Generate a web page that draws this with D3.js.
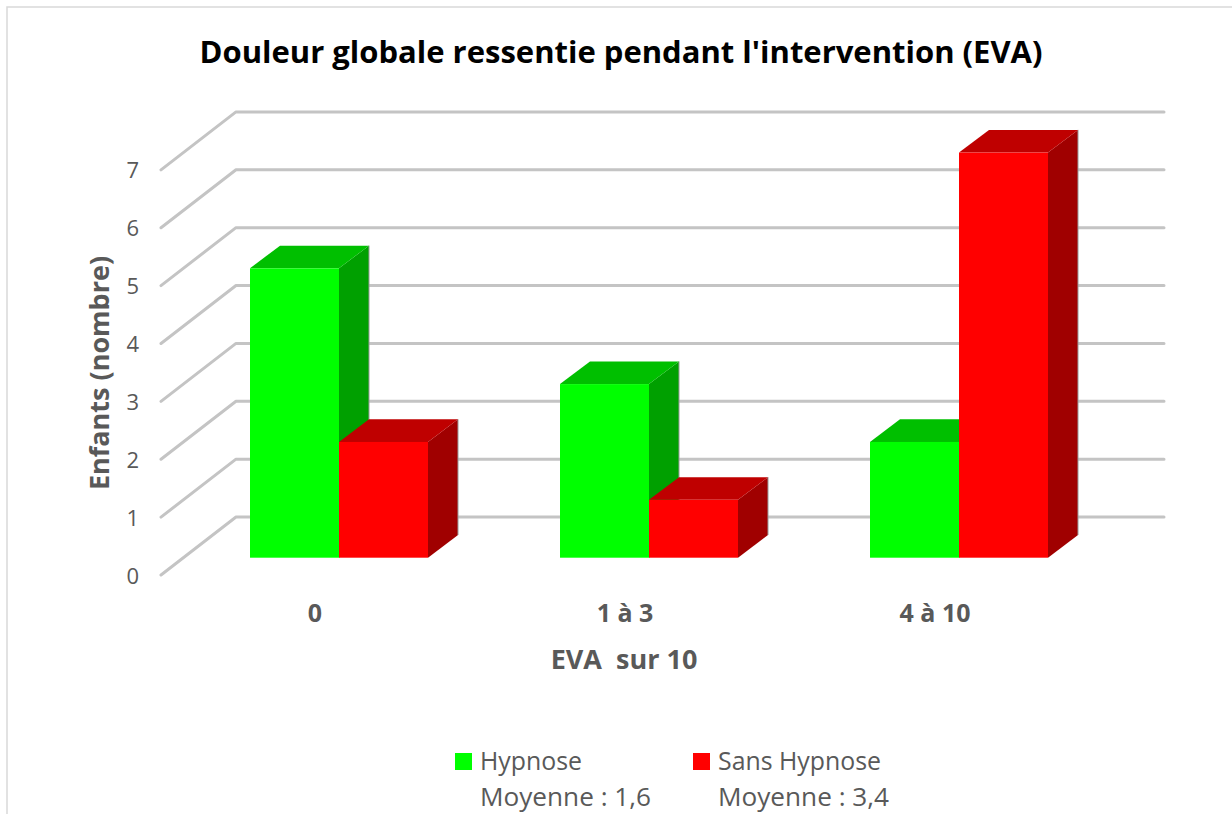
<!DOCTYPE html>
<html>
<head>
<meta charset="utf-8">
<script src="https://cdn.jsdelivr.net/npm/d3@7"></script>
<style>
  html, body { margin: 0; padding: 0; background: #fff; overflow: hidden; }
  text { fill: #595959; font-family: "Open Sans", sans-serif; }
</style>
</head>
<body>
<div id="chart"></div>
<script>
// values
var categories = ["0", "1 à 3", "4 à 10"];
var seriesNames = ["Hypnose", "Sans Hypnose"];
var seriesMeans = ["Moyenne : 1,6", "Moyenne : 3,4"];
var hypnose = [5, 3, 2];
var sansHypnose = [2, 1, 7];
var yTicks = [0, 1, 2, 3, 4, 5, 6, 7];

var svgWidth = 1232;
var svgHeight = 814;

var svg = d3.select("#chart")
  .append("svg")
  .attr("width", svgWidth)
  .attr("height", svgHeight);

// chart frame, only the left and top edges are in the picture
svg.append("path")
  .attr("d", "M7,814V7H1232")
  .attr("fill", "none")
  .attr("stroke", "#d9d9d9")
  .attr("stroke-width", 1.5);

// floor depth of the 3d box
var depthX = 76;
var depthY = 58;
// bars sit part way into the box and are less deep than it
var barShiftY = 17.3;
var barDepthX = 30;
var barDepthY = 22.7;

var yScale = d3.scaleLinear().domain([0, 8]).range([575, 112]);
var xAxisScale = d3.scaleBand().domain(categories).range([160, 1090]);
var xScale = d3.scaleBand().domain(categories).range([184, 1114])
  .paddingInner(0.4258).paddingOuter(0.2129);
var xSub = d3.scaleBand().domain(seriesNames).range([0, xScale.bandwidth()]);

// gridlines
svg.append("g").selectAll("path")
  .data(yTicks)
  .enter()
  .append("path")
  .attr("d", d => {
    var y = yScale(d);
    return `M161,${y}L${160 + depthX},${y - depthY}H1164`;
  })
  .attr("fill", "none")
  .attr("stroke", "#c4c4c4")
  .attr("stroke-width", 3)
  .attr("stroke-linecap", "round")
  .attr("stroke-linejoin", "round");

var colors = [
  { front: "#00ff00", top: "#00bf00", side: "#00a000" },
  { front: "#ff0000", top: "#bf0000", side: "#a00000" }
];

var bars = [];
categories.forEach((c, i) => {
  bars.push({ cat: c, name: seriesNames[0], value: hypnose[i], color: colors[0] });
  bars.push({ cat: c, name: seriesNames[1], value: sansHypnose[i], color: colors[1] });
});

svg.selectAll(".bar")
  .data(bars)
  .enter()
  .append("g")
  .attr("class", "bar")
  .each(function(d) {
    var g = d3.select(this);
    var x0 = xScale(d.cat) + xSub(d.name);
    var x1 = x0 + xSub.bandwidth();
    var y0 = yScale(0) - barShiftY;
    var y1 = yScale(d.value) - barShiftY;

    // side
    g.append("path")
      .attr("d", `M${x1},${y0}L${x1 + barDepthX},${y0 - barDepthY}V${y1 - barDepthY}L${x1},${y1}Z`)
      .attr("fill", d.color.side);
    // thin grey edge on the outside of the side face
    g.append("path")
      .attr("d", `M${x1 + barDepthX},${y0 - barDepthY}V${y1 - barDepthY}`)
      .attr("stroke", "#9a9a9a")
      .attr("stroke-width", 1);
    // top
    g.append("path")
      .attr("d", `M${x0},${y1}L${x0 + barDepthX},${y1 - barDepthY}H${x1 + barDepthX}L${x1},${y1}Z`)
      .attr("fill", d.color.top);
    // front
    g.append("rect")
      .attr("x", x0)
      .attr("y", y1)
      .attr("width", x1 - x0)
      .attr("height", y0 - y1)
      .attr("fill", d.color.front);
  });

// axes
var leftAxis = d3.axisLeft(yScale).tickValues(yTicks).tickSize(0).tickPadding(0);
var yAxisGroup = svg.append("g")
  .attr("transform", "translate(139, 1)")
  .call(leftAxis);
yAxisGroup.select(".domain").remove();
yAxisGroup.selectAll("text")
  .attr("font-family", null)
  .style("font-size", "22px");

var bottomAxis = d3.axisBottom(xAxisScale).tickSize(0).tickPadding(0);
var xAxisGroup = svg.append("g")
  .attr("transform", "translate(0, 604)")
  .call(bottomAxis);
xAxisGroup.select(".domain").remove();
xAxisGroup.selectAll("text")
  .attr("font-family", null)
  .style("font-size", "25px")
  .style("font-weight", "bold");

// titles
svg.append("text")
  .attr("x", 621)
  .attr("y", 63)
  .style("text-anchor", "middle")
  .style("font-size", "31px")
  .style("font-weight", "bold")
  .style("fill", "#000")
  .text("Douleur globale ressentie pendant l'intervention (EVA)");

svg.append("text")
  .attr("transform", "translate(109, 373) rotate(-90)")
  .style("text-anchor", "middle")
  .style("font-size", "27px")
  .style("font-weight", "bold")
  .text("Enfants (nombre)");

svg.append("text")
  .attr("x", 624)
  .attr("y", 669)
  .style("text-anchor", "middle")
  .style("font-size", "27px")
  .style("font-weight", "bold")
  .style("white-space", "pre")
  .text("EVA  sur 10");

// legend
var legendX = [480, 718];
var legend = svg.selectAll(".legend")
  .data(seriesNames)
  .enter()
  .append("g")
  .attr("class", "legend");

legend.append("rect")
  .attr("x", (d, i) => legendX[i] - 25)
  .attr("y", 753)
  .attr("width", 17)
  .attr("height", 17)
  .attr("fill", (d, i) => colors[i].front);

legend.append("text")
  .attr("x", (d, i) => legendX[i])
  .attr("y", 770)
  .style("font-size", "25px")
  .attr("textLength", (d, i) => [102, 163][i])
  .attr("lengthAdjust", "spacingAndGlyphs")
  .text(d => d);

legend.append("text")
  .attr("x", (d, i) => legendX[i])
  .attr("y", 806)
  .style("font-size", "25px")
  .attr("textLength", 171)
  .attr("lengthAdjust", "spacingAndGlyphs")
  .text((d, i) => seriesMeans[i]);
</script>
</body>
</html>
